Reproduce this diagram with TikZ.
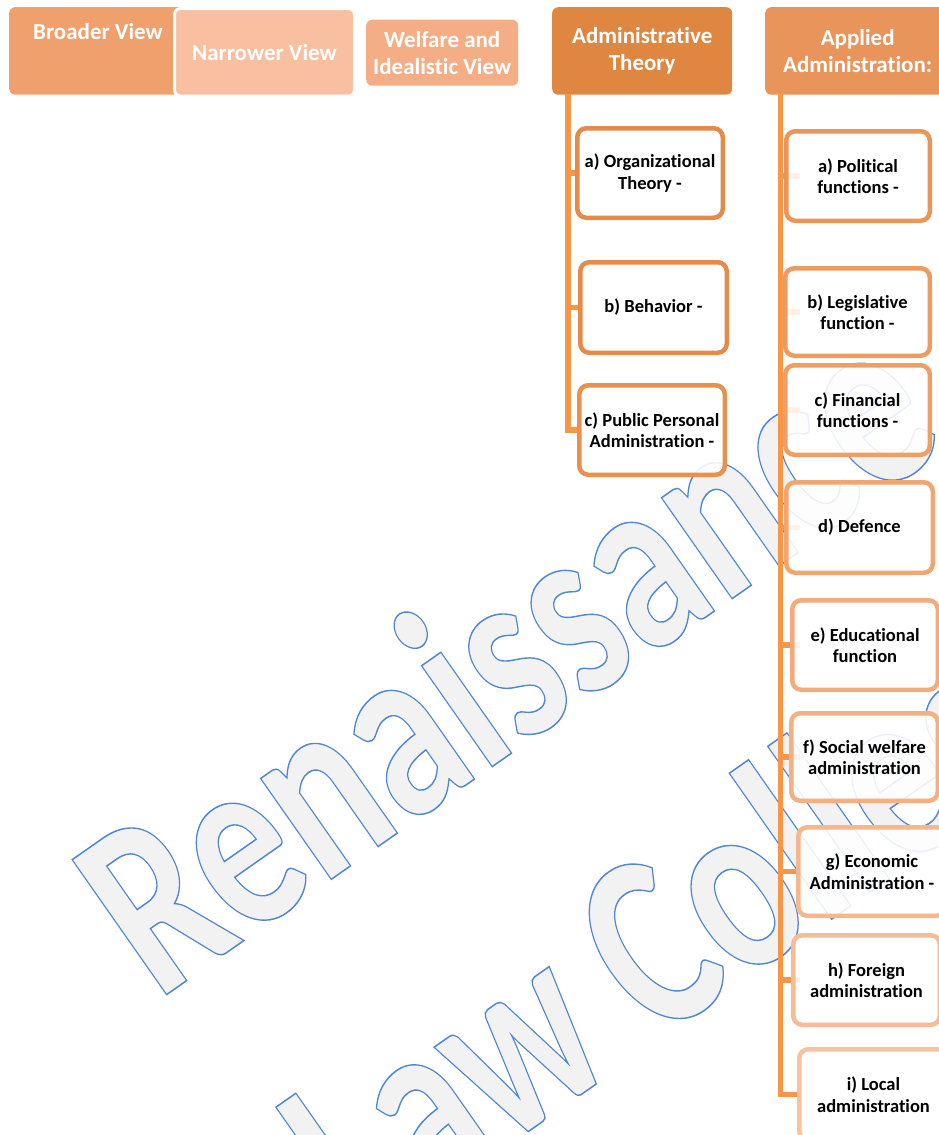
\documentclass[tikz,border=0pt]{standalone}
\usepackage{fontspec}
\setmainfont{Carlito}[Ligatures={NoCommon,NoContextual}]
\definecolor{cBroad}{HTML}{F0A06C}
\definecolor{cNarrow}{HTML}{F8BFA0}
\definecolor{cWelf}{HTML}{F4AD85}
\definecolor{cAdmin}{HTML}{DF8640}
\definecolor{cApplied}{HTML}{E8945A}
\definecolor{lineor}{HTML}{F79646}
\definecolor{wmfill}{HTML}{F2F2F2}
\definecolor{bA}{HTML}{E48A4A}
\definecolor{bB}{HTML}{E48A4A}
\definecolor{bC}{HTML}{E7904F}
\definecolor{b1}{HTML}{EA9559}
\definecolor{b2}{HTML}{EC9B62}
\definecolor{b3}{HTML}{EE9F68}
\definecolor{b4}{HTML}{F0A670}
\definecolor{b5}{HTML}{F2AB7A}
\definecolor{b6}{HTML}{F3B083}
\definecolor{b7}{HTML}{F5B78D}
\definecolor{b8}{HTML}{F7BC96}
\definecolor{b9}{HTML}{F8C2A0}
\newcommand\wmtext[1]{\special{pdf:literal direct 0.31 0.53 0.83 RG 2 Tr 1.5 w}#1\special{pdf:literal direct 0 Tr}}
\newcommand\subbox[7]{%
  \node[subnode, draw=#6, minimum width={(#4)-(#2)-4.5}, minimum height={(#5)-(#3)-4.5}]
    (#1) at ({((#2)+(#4))/2},{((#3)+(#5))/2}) {#7};}
\tikzset{
  hdr/.style={rounded corners=6pt, inner sep=0pt, text=white, align=center,
    font=\fontsize{23}{27}\selectfont\bfseries, anchor=north west},
  subnode/.style={line width=4.5pt, rounded corners=9pt, fill=white, fill opacity=0.88,
    text opacity=1, inner sep=0pt, align=center, text=black,
    font=\fontsize{18.5}{21.5}\selectfont\bfseries},
  conn/.style={draw=lineor, line width=5.5pt},
  wm/.style={inner sep=0pt, text=wmfill, anchor=base west, rotate=35, xscale=0.75,
    font=\fontsize{254}{254}\selectfont\bfseries}
}
\begin{document}
\begin{tikzpicture}[x=1pt,y=-1pt]
\useasboundingbox (0,0) rectangle (938,1135);
% watermark
\node[wm] (wm1) at (157.5,1001) {\wmtext{Renaissance}};
\node[wm] (wm2) at (362,1248) {\wmtext{Law College}};
% header boxes
\node[hdr, fill=cBroad, minimum width=178, minimum height=87.5] (bv) at (9,7) {};
\node[font=\fontsize{23}{27}\selectfont\bfseries, text=white, inner sep=0pt] (bvt) at (98,32) {Broader View};
\node[hdr, fill=cNarrow, draw=white, line width=3pt, minimum width=180, minimum height=87.5] (nv) at (173,7) {Narrower View};
\node[hdr, fill=cWelf, minimum width=152, minimum height=66] (wv) at (366,19.5) {Welfare and\\Idealistic View};
\node[hdr, fill=cAdmin, minimum width=180, minimum height=87.5] (at) at (552,7) {Administrative\\Theory};
\node[hdr, fill=cApplied, minimum width=185, minimum height=87.5] (ap) at (765,7) {Applied\\Administration:};
% trunks
\coordinate (atT) at (568,94);
\coordinate (apT) at (780.5,94);
\path (575,173) coordinate (aaW) (578,307.5) coordinate (abW) (577,430) coordinate (acW);
\draw[conn] (atT) |- (acW);
\draw[conn] (atT |- aaW) -- (aaW);
\draw[conn] (atT |- abW) -- (abW);
\draw[conn] (apT) |- (797,1094.5);
\foreach \y in {176,312,410,527.5,645,757,871.5,980} \draw[conn] (apT |- 0,\y) -- (800,\y);
% administrative theory children
\subbox{aa}{575}{126}{725}{220}{bA}{a) Organizational\\Theory -}
\subbox{ab}{578}{260}{729}{355}{bB}{b) Behavior -}
\subbox{ac}{577}{383}{727}{477}{bC}{c) Public Personal\\Administration -}
% applied administration children
\subbox{ra}{784}{129}{932}{223}{b1}{a) Political\\functions -}
\subbox{rb}{783}{266}{932}{358}{b2}{b) Legislative\\function -}
\subbox{rc}{783}{363}{932}{457}{b3}{c) Financial\\functions -}
\subbox{rd}{784}{480}{935}{575}{b4}{d) Defence}
\subbox{re}{790}{598}{940}{692}{b5}{e) Educational\\function}
\subbox{rf}{789}{711}{940}{803}{b6}{f) Social welfare\\administration}
\subbox{rg}{796}{825}{948}{918}{b7}{g) Economic\\Administration -}
\subbox{rh}{791}{933}{942}{1027}{b8}{h) Foreign\\administration}
\subbox{ri}{797}{1047}{950}{1142}{b9}{i) Local\\administration}
\end{tikzpicture}
\end{document}
